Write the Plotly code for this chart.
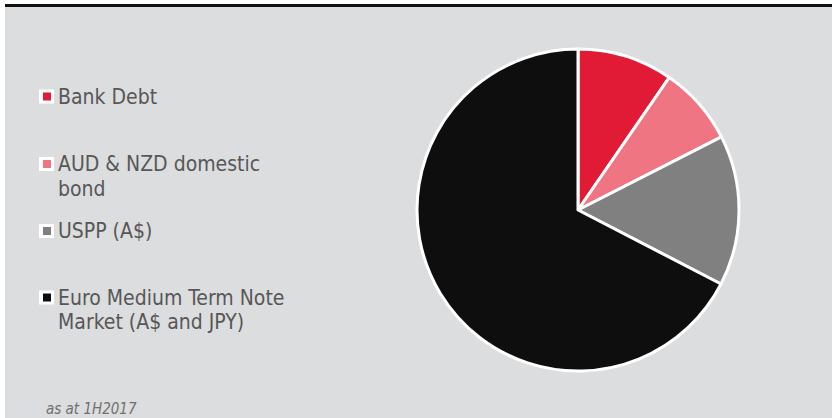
import plotly.graph_objects as go

# Funding mix, as at 1H2017 (share of total, %)
labels = ["Bank Debt", "AUD & NZD domestic bond", "USPP (A$)",
          "Euro Medium Term Note Market (A$ and JPY)"]
legend_lines = [["Bank Debt"], ["AUD & NZD domestic", "bond"], ["USPP (A$)"],
                ["Euro Medium Term Note", "Market (A$ and JPY)"]]
values = [9.6, 7.9, 15.1, 67.4]
colors = ["#e11b35", "#f07583", "#808080", "#0e0e0e"]

W, H = 832, 418
BG = "#dcdddf"
TEXT = "#575757"
FONT = "DejaVu Sans Condensed, DejaVu Sans"

fig = go.Figure()

# pie centred at (578, 210) px with radius ~161 px
cx, cy, r = 578, 210, 161
fig.add_trace(go.Pie(
    labels=labels, values=values, sort=False, direction="clockwise",
    rotation=0, textinfo="none", hoverinfo="label+percent",
    marker=dict(colors=colors, line=dict(color="white", width=3)),
    domain=dict(x=[(cx - r) / W, (cx + r) / W],
                y=[(H - cy - r) / H, (H - cy + r) / H]),
    showlegend=False,
))

# invisible pixel-space axes for the legend and frame decorations
fig.update_xaxes(range=[0, W], visible=False, fixedrange=True)
fig.update_yaxes(range=[H, 0], visible=False, fixedrange=True)

shapes = [
    dict(type="rect", xref="x", yref="y", x0=5, x1=W, y0=7, y1=H,
         fillcolor=BG, line=dict(width=0), layer="below"),
    dict(type="rect", xref="x", yref="y", x0=5, x1=W, y0=4, y1=7,
         fillcolor="#111111", line=dict(width=0), layer="below"),
]

annotations = []
legend_y = [96.5, 164, 231, 297.5]
line_gap = 24.5
for lines, col, y in zip(legend_lines, colors, legend_y):
    shapes.append(dict(type="rect", xref="x", yref="y", x0=39, x1=54,
                       y0=y - 7, y1=y + 7, fillcolor="white",
                       line=dict(width=0)))
    shapes.append(dict(type="rect", xref="x", yref="y", x0=43, x1=51,
                       y0=y - 4, y1=y + 4, fillcolor=col,
                       line=dict(width=0)))
    for i, line in enumerate(lines):
        annotations.append(dict(
            x=56, y=y - 14 + i * line_gap, xref="x", yref="y", text=line,
            showarrow=False, xanchor="left", yanchor="top", align="left",
            font=dict(family=FONT, size=21, color=TEXT),
        ))

annotations.append(dict(
    x=44, y=408.5, xref="x", yref="y", text="<i>as at 1H2017</i>",
    showarrow=False, xanchor="left", yanchor="middle",
    font=dict(family=FONT, size=15, color="#707070"),
))

fig.update_layout(
    width=W, height=H, margin=dict(l=0, r=0, t=0, b=0),
    paper_bgcolor="white", plot_bgcolor="rgba(0,0,0,0)",
    shapes=shapes, annotations=annotations,
)

fig.write_html("out.html", config={"displayModeBar": False})
